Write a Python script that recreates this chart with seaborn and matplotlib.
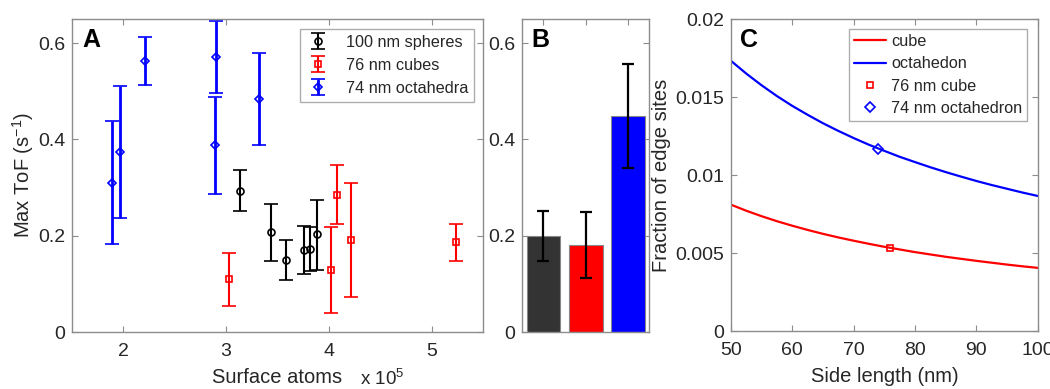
import numpy as np
import pandas as pd
import matplotlib
matplotlib.use("Agg")
import matplotlib.pyplot as plt
import seaborn as sns

# Panel A: surface atoms (x 1e5) vs max ToF, with error bar ends
sph_x = [3.137, 3.435, 3.581, 3.753, 3.815, 3.889]
sph_y = [0.293, 0.208, 0.150, 0.170, 0.173, 0.203]
sph_hi = [0.336, 0.266, 0.192, 0.220, 0.219, 0.275]
sph_lo = [0.251, 0.148, 0.109, 0.120, 0.127, 0.129]

cub_x = [3.024, 4.021, 4.076, 4.216, 5.236]
cub_y = [0.110, 0.129, 0.284, 0.192, 0.186]
cub_hi = [0.165, 0.219, 0.346, 0.309, 0.224]
cub_lo = [0.055, 0.040, 0.224, 0.073, 0.147]

oct_x = [1.893, 1.968, 2.210, 2.904, 2.894, 3.318]
oct_y = [0.310, 0.374, 0.563, 0.571, 0.388, 0.484]
oct_hi = [0.439, 0.512, 0.612, 0.646, 0.489, 0.580]
oct_lo = [0.183, 0.236, 0.514, 0.496, 0.287, 0.388]

# Panel B: mean max ToF per shape
bar_names = ["spheres", "cubes", "octahedra"]
bar_vals = [0.200, 0.181, 0.448]
bar_hi = [0.251, 0.249, 0.556]
bar_lo = [0.148, 0.112, 0.341]

# Panel C: fraction of edge sites vs side length
side_len = [50, 52.5, 55, 57.5, 60, 62.5, 65, 67.5, 70, 72.5, 75,
            77.5, 80, 82.5, 85, 87.5, 90, 92.5, 95, 97.5, 100]
cube_frac = [0.00810, 0.00771, 0.00736, 0.00704, 0.00675, 0.00648, 0.00623,
             0.00600, 0.00579, 0.00559, 0.00540, 0.00523, 0.00506, 0.00491,
             0.00476, 0.00463, 0.00450, 0.00438, 0.00426, 0.00415, 0.00405]
octa_frac = [0.01732, 0.01650, 0.01575, 0.01506, 0.01443, 0.01386, 0.01332,
             0.01283, 0.01237, 0.01194, 0.01155, 0.01117, 0.01083, 0.01050,
             0.01019, 0.00990, 0.00962, 0.00936, 0.00912, 0.00888, 0.00866]
cube_pt = (76, 0.00535)
octa_pt = (74, 0.01168)

sns.set_theme(style="white")
plt.rcParams['font.family'] = ['Liberation Sans', 'DejaVu Sans']
plt.rcParams['mathtext.fontset'] = 'custom'
plt.rcParams['mathtext.rm'] = 'Liberation Sans'

SPINE = '#8c8c8c'
TXT = '#262626'
FS = 14
LEG_FS = 11.7

fig = plt.figure(figsize=(10.5, 3.89), dpi=100)
ax_a = fig.add_axes([0.0686, 0.1465, 0.3914, 0.8045])
ax_b = fig.add_axes([0.4974, 0.1465, 0.1210, 0.8045])
ax_c = fig.add_axes([0.6962, 0.1490, 0.2921, 0.8020])


def style_axes(ax):
    for s in ax.spines.values():
        s.set_color(SPINE)
        s.set_linewidth(1.0)
        s.set_visible(True)
    ax.tick_params(direction='in', length=4, width=0.8, color=SPINE,
                   labelsize=FS, labelcolor=TXT, top=True, right=True,
                   bottom=True, left=True, pad=5)
    ax.tick_params(axis='x', pad=8)


# --- A ---
series = [
    (sph_x, sph_y, sph_hi, sph_lo, 'black', 'o', 1.5, '100 nm spheres'),
    (cub_x, cub_y, cub_hi, cub_lo, 'red', 's', 1.5, '76 nm cubes'),
    (oct_x, oct_y, oct_hi, oct_lo, 'blue', 'D', 2.0, '74 nm octahedra'),
]
for x, y, hi, lo, col, mk, lw, lab in series:
    y = np.array(y)
    err = [y - np.array(lo), np.array(hi) - y]
    ms = 5 if mk != 'D' else 4
    ax_a.errorbar(x, y, yerr=err, fmt=mk, color=col, mfc='none', mec=col,
                  ms=ms, mew=1.2, elinewidth=lw, capsize=5, capthick=lw,
                  label=lab)
ax_a.set_xlim(1.5, 5.5)
ax_a.set_ylim(0, 0.65)
ax_a.set_xticks([2, 3, 4, 5])
ax_a.set_yticks([0, 0.2, 0.4, 0.6])
ax_a.set_yticklabels(['0', '0.2', '0.4', '0.6'])
style_axes(ax_a)
ax_a.set_ylabel('Max ToF (s$^{-1}$)', fontsize=FS + 0.5, color=TXT, labelpad=1)
ax_a.set_xlabel('Surface atoms', fontsize=FS + 0.5, color=TXT, labelpad=6)
ax_a.text(0.70, -0.15, 'x 10$^5$', transform=ax_a.transAxes, fontsize=FS - 0.5,
          color=TXT, ha='left', va='center')
ax_a.text(0.025, 0.97, 'A', transform=ax_a.transAxes, fontsize=18,
          fontweight='bold', ha='left', va='top', color='black')
leg = ax_a.legend(loc='upper right', fontsize=LEG_FS, frameon=True,
                  fancybox=False, edgecolor='#999999', borderpad=0.35,
                  handlelength=1.6, handletextpad=0.9, labelspacing=0.5,
                  borderaxespad=0, bbox_to_anchor=(0.978, 0.968))
leg.get_frame().set_linewidth(1.0)

# --- B ---
df_b = pd.DataFrame({'shape': bar_names, 'tof': bar_vals})
sns.barplot(data=df_b, x='shape', y='tof', hue='shape',
            palette=['#333333', '#ff0000', '#0000ff'], width=0.8,
            edgecolor='#888888', linewidth=0.8, legend=False, ax=ax_b,
            saturation=1)
bv = np.array(bar_vals)
ax_b.errorbar(range(3), bv, yerr=[bv - np.array(bar_lo), np.array(bar_hi) - bv],
              fmt='none', ecolor='black', elinewidth=1.6, capsize=4, capthick=1.6)
ax_b.set_xlim(-0.5, 2.5)
ax_b.set_ylim(0, 0.65)
ax_b.set_yticks([0, 0.2, 0.4, 0.6])
ax_b.set_yticklabels(['0', '0.2', '0.4', '0.6'])
ax_b.set_xticks([0, 1, 2])
ax_b.set_xticklabels([])
ax_b.set_xlabel('')
ax_b.set_ylabel('')
style_axes(ax_b)
ax_b.tick_params(axis='x', bottom=False)
ax_b.text(0.07, 0.97, 'B', transform=ax_b.transAxes, fontsize=18,
          fontweight='bold', ha='left', va='top', color='black')

# --- C ---
df_c = pd.DataFrame({'L': side_len * 2,
                     'frac': cube_frac + octa_frac,
                     'shape': ['cube'] * len(side_len) + ['octahedon'] * len(side_len)})
sns.lineplot(data=df_c, x='L', y='frac', hue='shape',
             palette={'cube': 'red', 'octahedon': 'blue'}, lw=1.6, ax=ax_c)
ax_c.plot([cube_pt[0]], [cube_pt[1]], 's', mfc='none', mec='red', ms=5,
          mew=1.2, ls='none', label='76 nm cube')
ax_c.plot([octa_pt[0]], [octa_pt[1]], 'D', mfc='none', mec='blue', ms=5,
          mew=1.2, ls='none', label='74 nm octahedron')
ax_c.set_xlim(50, 100)
ax_c.set_ylim(0, 0.02)
ax_c.set_xticks([50, 60, 70, 80, 90, 100])
ax_c.set_yticks([0, 0.005, 0.01, 0.015, 0.02])
ax_c.set_yticklabels(['0', '0.005', '0.01', '0.015', '0.02'])
style_axes(ax_c)
ax_c.set_xlabel('Side length (nm)', fontsize=FS + 0.5, color=TXT, labelpad=6)
ax_c.set_ylabel('Fraction of edge sites', fontsize=FS + 0.5, color=TXT, labelpad=3)
ax_c.text(0.03, 0.97, 'C', transform=ax_c.transAxes, fontsize=18,
          fontweight='bold', ha='left', va='top', color='black')
leg = ax_c.legend(loc='upper right', fontsize=LEG_FS, frameon=True,
                  fancybox=False, edgecolor='#999999', borderpad=0.3,
                  handlelength=2.0, handletextpad=0.3, labelspacing=0.45,
                  borderaxespad=0, bbox_to_anchor=(0.965, 0.968))
leg.get_frame().set_linewidth(1.0)

fig.savefig('out.png', dpi=100)
